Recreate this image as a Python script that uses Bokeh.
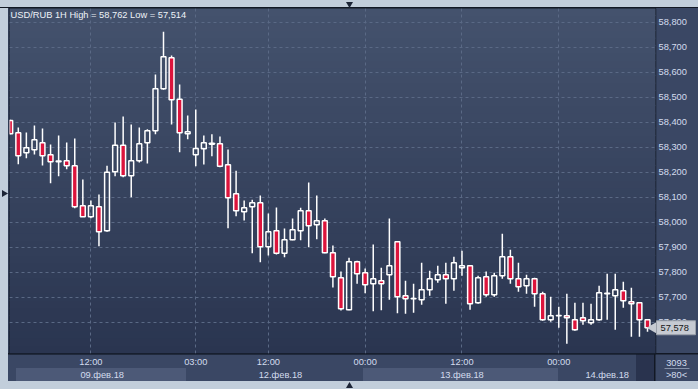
import numpy as np
from bokeh.plotting import figure
from bokeh.layouts import row
from bokeh.models import (Range1d, LinearAxis, FixedTicker, Label,
                          ColumnDataSource, CustomJSTickFormatter)
from bokeh.core.properties import value
from bokeh.embed import file_html
from bokeh.resources import INLINE

# ---------------- data (USD/RUB, 1H candles) ----------------
opens = [58.407, 58.358, 58.278, 58.290, 58.318, 58.270, 58.242, 58.246, 58.226, 58.066,
         58.022, 58.062, 57.966, 58.202, 58.308, 58.186, 58.246, 58.318, 58.366, 58.534,
         58.658, 58.492, 58.354, 58.270, 58.294, 58.312, 58.314, 58.230, 58.114, 58.042,
         58.062, 58.078, 57.902, 57.966, 57.876, 57.930, 57.966, 58.046, 57.990, 58.006,
         57.878, 57.778, 57.650, 57.842, 57.798, 57.754, 57.766, 57.790, 57.922, 57.706,
         57.694, 57.690, 57.730, 57.770, 57.790, 57.774, 57.818, 57.826, 57.678, 57.782,
         57.710, 57.786, 57.862, 57.774, 57.746, 57.774, 57.714, 57.610, 57.626, 57.626,
         57.610, 57.618, 57.598, 57.610, 57.714, 57.706, 57.726, 57.682, 57.678, 57.610]
highs = [58.410, 58.379, 58.359, 58.387, 58.375, 58.311, 58.347, 58.319, 58.335, 58.171,
         58.087, 58.111, 58.226, 58.399, 58.423, 58.391, 58.379, 58.372, 58.591, 58.762,
         58.667, 58.551, 58.427, 58.451, 58.347, 58.352, 58.343, 58.291, 58.206, 58.087,
         58.090, 58.107, 58.035, 58.059, 57.975, 58.015, 58.058, 58.159, 58.107, 58.015,
         57.907, 57.803, 57.858, 57.846, 57.815, 57.911, 57.818, 58.015, 57.925, 57.766,
         57.754, 57.838, 57.806, 57.826, 57.838, 57.862, 57.886, 57.828, 57.786, 57.803,
         57.798, 57.954, 57.890, 57.838, 57.790, 57.778, 57.722, 57.702, 57.662, 57.714,
         57.678, 57.678, 57.674, 57.746, 57.794, 57.794, 57.762, 57.738, 57.680, 57.612]
lows = [58.352, 58.232, 58.256, 58.271, 58.227, 58.156, 58.184, 58.212, 58.056, 58.022,
        58.016, 57.904, 57.962, 58.184, 58.180, 58.100, 58.239, 58.235, 58.352, 58.530,
        58.391, 58.280, 58.332, 58.224, 58.231, 58.264, 58.220, 57.976, 58.024, 58.007,
        57.876, 57.840, 57.867, 57.871, 57.860, 57.928, 57.928, 57.900, 57.932, 57.876,
        57.739, 57.647, 57.648, 57.754, 57.716, 57.644, 57.648, 57.690, 57.636, 57.634,
        57.638, 57.670, 57.706, 57.758, 57.674, 57.726, 57.786, 57.650, 57.674, 57.702,
        57.702, 57.774, 57.754, 57.722, 57.714, 57.662, 57.606, 57.602, 57.578, 57.514,
        57.566, 57.590, 57.590, 57.606, 57.610, 57.570, 57.658, 57.542, 57.542, 57.562]
closes = [58.354, 58.266, 58.298, 58.330, 58.266, 58.242, 58.245, 58.226, 58.062, 58.022,
          58.066, 57.962, 58.200, 58.308, 58.186, 58.246, 58.314, 58.366, 58.534, 58.662,
          58.490, 58.358, 58.362, 58.295, 58.318, 58.316, 58.224, 58.098, 58.046, 58.058,
          58.078, 57.902, 57.962, 57.876, 57.930, 57.970, 58.046, 57.986, 58.006, 57.878,
          57.782, 57.654, 57.842, 57.794, 57.750, 57.774, 57.754, 57.826, 57.702, 57.694,
          57.695, 57.730, 57.774, 57.790, 57.774, 57.838, 57.826, 57.674, 57.778, 57.710,
          57.786, 57.862, 57.774, 57.742, 57.774, 57.714, 57.610, 57.626, 57.627, 57.618,
          57.570, 57.606, 57.610, 57.718, 57.716, 57.730, 57.686, 57.674, 57.610, 57.578]

price_ticks = [57.6, 57.7, 57.8, 57.9, 58.0, 58.1, 58.2, 58.3, 58.4, 58.5, 58.6, 58.7, 58.8]
time_ticks = [10, 23, 32, 44, 56, 68]
time_labels = ["12:00", "03:00", "12:00", "00:00", "12:00", "00:00"]
date_ticks = [11.4, 33.5, 56.0, 74.0]
date_labels = ["09.фев.18", "12.фев.18", "13.фев.18", "14.фев.18"]
title_text = "USD/RUB 1H High = 58,762 Low = 57,514"
last_price = 57.578
last_label = "57,578"
info_top = "3093"
info_bottom = ">80<"

# ---------------- layout helpers ----------------
W, H = 698, 389
FL, FR, FT, FB = 9, 655, 8, 353
X0, X1 = -0.09, 79.99
Y0, Y1 = 57.475, 58.855


def sx(px):
    return X0 + (px - FL) * (X1 - X0) / (FR - FL)


def sy(py):
    return Y1 - (py - FT) * (Y1 - Y0) / (FB - FT)


FONT = "Liberation Sans"
FS = "9.3px"
LABEL_COLOR = "#d3dcee"
AXIS_BG = "#3a4764"
BAND = "#4c5977"
OUTER = "#c2cedb"
DARK = "#121824"
TAG = "#c6cad2"


def box(color, x, y, w, h):
    return f"linear-gradient({color},{color}) {x}px {y}px / {w}px {h}px no-repeat"


css_bg = ", ".join([
    box(OUTER, 0, 0, W, 7),
    box(DARK, 0, 7, W, 1),
    box(OUTER, 0, 0, 8, H),
    box(OUTER, 0, 381, W, 8),
    box(DARK, 0, 353, W, 1.5),
    box(DARK, 654.2, 0, 1.5, 381),
    box(BAND, 16, 368, 170, 13),
    box(BAND, 363, 368, 195, 13),
    box("#29334e", 636, 354, 18.5, 27),
]) + ", " + AXIS_BG

# ---------------- main chart ----------------
p = figure(width=W, height=H, x_range=Range1d(X0, X1), y_range=Range1d(Y0, Y1),
           y_axis_location="right", output_backend="svg", toolbar_location=None,
           min_border_left=FL, min_border_right=W - FR, min_border_top=FT,
           min_border_bottom=H - FB)
p.background_fill_color = "#36435e"
p.border_fill_alpha = 0
p.styles = {"background": css_bg}
p.outline_line_color = DARK
p.outline_line_width = 1.5
p.frame_align = False

# vertical gradient of the plot area
top_rgb = (68, 82, 109)
bot_rgb = (42, 53, 80)
n = 46
edges = np.linspace(Y0, Y1, n + 1)
cols = []
for i in range(n):
    t = (i + 0.5) / n
    c = tuple(int(round(b + (tp - b) * t)) for tp, b in zip(top_rgb, bot_rgb))
    cols.append("#%02x%02x%02x" % c)
p.quad(left=X0 - 1, right=X1 + 1, bottom=edges[:-1], top=edges[1:] + 0.003,
       fill_color=cols, line_color=None, level="image")

# grids
p.xgrid.ticker = FixedTicker(ticks=time_ticks)
p.ygrid.ticker = FixedTicker(ticks=price_ticks)
for g in (p.xgrid[0], p.ygrid[0]):
    g.grid_line_color = "#5a6985"
    g.grid_line_dash = "3 3"
    g.grid_line_width = 1

# candles
idx = list(range(len(opens)))
inc = [c >= o for o, c in zip(opens, closes)]
body_top = [max(o, c) for o, c in zip(opens, closes)]
body_bot = [min(o, c) for o, c in zip(opens, closes)]

wick_src = ColumnDataSource(dict(x=idx, high=highs, low=lows, bt=body_top, bb=body_bot))
p.segment(x0="x", y0="high", x1="x", y1="bt", source=wick_src, line_color="white", line_width=1.5)
p.segment(x0="x", y0="bb", x1="x", y1="low", source=wick_src, line_color="white", line_width=1.5)

up = ColumnDataSource(dict(x=[i for i in idx if inc[i]],
                           top=[body_top[i] for i in idx if inc[i]],
                           bottom=[body_bot[i] for i in idx if inc[i]]))
dn = ColumnDataSource(dict(x=[i for i in idx if not inc[i]],
                           top=[body_top[i] for i in idx if not inc[i]],
                           bottom=[body_bot[i] for i in idx if not inc[i]]))
p.vbar(x="x", top="top", bottom="bottom", width=0.6, source=up,
       fill_alpha=0, line_color="white", line_width=1.5)
p.vbar(x="x", top="top", bottom="bottom", width=0.6, source=dn,
       fill_color="#dc143c", line_color="white", line_width=1.5)


def style_axis(ax, standoff):
    ax.axis_line_color = None
    ax.major_tick_line_color = None
    ax.minor_tick_line_color = None
    ax.major_tick_out = 0
    ax.major_tick_in = 0
    ax.minor_tick_out = 0
    ax.minor_tick_in = 0
    ax.axis_label_standoff = 0
    ax.major_label_standoff = standoff
    ax.major_label_text_color = LABEL_COLOR
    ax.major_label_text_font = FONT
    ax.major_label_text_font_size = FS


# right price axis
ya = p.yaxis[0]
ya.ticker = FixedTicker(ticks=price_ticks)
ya.formatter = CustomJSTickFormatter(code="return tick.toFixed(3).replace('.', ',');")
style_axis(ya, 3)

# time axis
xa = p.xaxis[0]
xa.ticker = FixedTicker(ticks=time_ticks)
xa.major_label_overrides = {t: l for t, l in zip(time_ticks, time_labels)}
style_axis(xa, 3)

# date axis
da = LinearAxis(ticker=FixedTicker(ticks=date_ticks),
                formatter=CustomJSTickFormatter(
                    args=dict(t=date_ticks, l=date_labels),
                    code="for (let i = 0; i < t.length; i++) { if (Math.abs(t[i] - tick) < 1e-6) return l[i]; } return '';"))
style_axis(da, 0)
p.add_layout(da, "below")

# title
p.add_layout(Label(x=sx(10), y=sy(14), text=title_text, text_baseline="middle",
                   text_color="#eef2f8", text_font=FONT, text_font_size=FS))

# ---------------- transparent overlay for marks outside the plot frame ----------------
q = figure(width=W, height=H, x_range=Range1d(sx(0), sx(W)), y_range=Range1d(sy(H), sy(0)),
           output_backend="svg", toolbar_location=None, x_axis_location=None,
           y_axis_location=None, min_border=0, min_border_left=0, min_border_right=0,
           min_border_top=0, min_border_bottom=0)
q.grid.visible = False
q.outline_line_color = None
q.background_fill_alpha = 0
q.border_fill_alpha = 0
q.frame_align = False
q.margin = (0, 0, 0, -W)

# last-price tag
q.scatter(x=[sx(652.5)], y=[last_price], marker="triangle", size=11, angle=np.pi / 2,
          fill_color=TAG, line_color=None)
q.rect(x=[sx(675.5)], y=[last_price], width=[39], height=[14], width_units="screen",
       height_units="screen", fill_color=TAG, line_color="#9aa0aa", line_width=1)
q.text(x=[sx(660)], y=[last_price], text=[last_label], text_baseline="middle",
       text_color="#151515", text_font=value(FONT), text_font_size=FS)

# info box in the bottom-right corner
q.text(x=[sx(676), sx(676)], y=[sy(362), sy(374.5)], text=[info_top, info_bottom],
       text_align="center", text_baseline="middle", text_color=LABEL_COLOR,
       text_font=value(FONT), text_font_size=FS)
q.segment(x0=[sx(664)], y0=[sy(368)], x1=[sx(689)], y1=[sy(368)],
          line_color="#8793ab", line_width=1)

# small scroll arrows on the outer frame
q.scatter(x=[sx(349), sx(3.5), sx(349)], y=[sy(3.5), sy(193), sy(385.5)],
          marker="triangle", size=7, angle=[np.pi, -np.pi / 2, 0],
          fill_color="#1c2436", line_color=None)

layout = row(p, q)
open("out.html", "w").write(file_html(layout, INLINE))
